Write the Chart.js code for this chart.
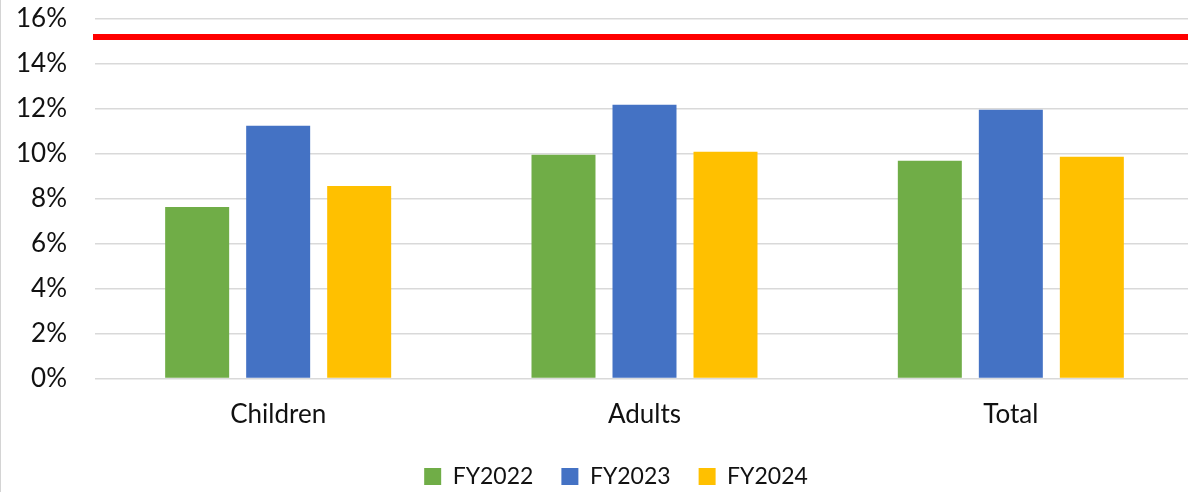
<!DOCTYPE html>
<html>
<head>
<meta charset="utf-8">
<script src="https://cdn.jsdelivr.net/npm/chart.js@4"></script>
<style>
  html, body { margin: 0; padding: 0; background: #fff; overflow: hidden; }
  #wrap { position: relative; width: 1194px; height: 492px; }
  #edge { position: absolute; left: 0; top: 0; width: 1px; height: 492px; background: #d4d4d4; }
  canvas { display: block; }
</style>
</head>
<body>
<div id="wrap">
  <canvas id="chart" width="1194" height="492"></canvas>
  <div id="edge"></div>
</div>
<script>
// Share of people in each group, by fiscal year (percent)
const categories = ['Children', 'Adults', 'Total'];
const seriesNames = ['FY2022', 'FY2023', 'FY2024'];
const fy2022 = [7.63, 9.96, 9.69];
const fy2023 = [11.25, 12.18, 11.96];
const fy2024 = [8.57, 10.09, 9.87];
const yTicks = [0, 2, 4, 6, 8, 10, 12, 14, 16];
// Reference level drawn as a red horizontal rule
const targetRate = 15.2;

const seriesColors = ['#70ad47', '#4472c4', '#ffc000'];
const seriesValues = [fy2022, fy2023, fy2024];

// Draws the target rule across the plot using the y scale
const targetLine = {
  id: 'targetLine',
  afterDatasetsDraw(chart) {
    const { ctx, chartArea, scales } = chart;
    const y = scales.y.getPixelForValue(targetRate);
    ctx.save();
    ctx.strokeStyle = '#ff0000';
    ctx.lineWidth = 6;
    ctx.beginPath();
    ctx.moveTo(chartArea.left - 2, y);
    ctx.lineTo(chart.width, y);
    ctx.stroke();
    ctx.restore();
  }
};

// Centres the legend row under the plot rather than the whole canvas
const legendShift = {
  id: 'legendShift',
  afterLayout(chart) {
    const lg = chart.legend;
    if (lg) { lg.left += 19; lg.right += 19; }
  }
};

const font = 'Lato, "Open Sans", sans-serif';

new Chart(document.getElementById('chart'), {
  type: 'bar',
  data: {
    labels: categories,
    datasets: seriesNames.map((name, i) => ({
      label: name,
      data: seriesValues[i],
      backgroundColor: seriesColors[i],
      borderWidth: 0,
      categoryPercentage: 0.6634,
      barPercentage: 0.79
    }))
  },
  options: {
    responsive: false,
    animation: false,
    events: [],
    layout: { padding: { left: 0, right: 0, top: 19, bottom: 0 } },
    scales: {
      x: {
        grid: { display: false, drawTicks: false },
        border: { display: false },
        ticks: { color: '#111', font: { family: font, size: 26 }, padding: 21 },
        afterFit(scale) { scale.height = 58.5; }
      },
      y: {
        min: 0,
        max: 16,
        afterBuildTicks(scale) { scale.ticks = yTicks.map(v => ({ value: v })); },
        grid: {
          color: '#d9d9d9',
          lineWidth: 1.5,
          drawTicks: true,
          tickLength: 28,
          tickColor: 'rgba(0,0,0,0)'
        },
        border: { display: false },
        ticks: {
          color: '#111',
          font: { family: font, size: 26 },
          padding: 0,
          callback: v => v + '%'
        },
        afterFit(scale) { scale.width = 95; }
      }
    },
    plugins: {
      tooltip: { enabled: false },
      legend: {
        position: 'bottom',
        maxHeight: 55,
        labels: {
          color: '#111',
          font: { family: font, size: 23 },
          boxWidth: 17,
          boxHeight: 17,
          padding: 28
        }
      }
    }
  },
  plugins: [targetLine, legendShift]
});
</script>
</body>
</html>
